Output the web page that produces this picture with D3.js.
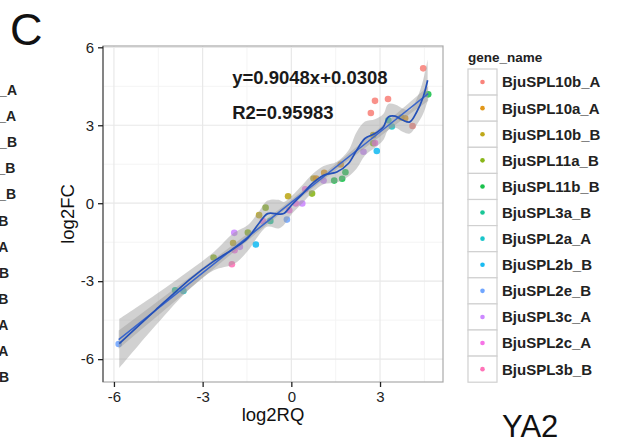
<!DOCTYPE html>
<html>
<head>
<meta charset="utf-8">
<script src="https://cdn.jsdelivr.net/npm/d3@7"></script>
<style>
  body { margin: 0; background: #fff; }
  svg { display: block; font-family: "Liberation Sans", Arial, sans-serif; }
</style>
</head>
<body>
<div id="chart"></div>
<script>
// legend levels (ggplot order) and their hue colours
var genes = ['BjuSPL10b_A', 'BjuSPL10a_A', 'BjuSPL10b_B', 'BjuSPL11a_B', 'BjuSPL11b_B', 'BjuSPL3a_B',
             'BjuSPL2a_A', 'BjuSPL2b_B', 'BjuSPL2e_B', 'BjuSPL3c_A', 'BjuSPL2c_A', 'BjuSPL3b_B']
var geneColors = ['#F8766D', '#DE8C00', '#B79F00', '#7CAE00', '#00BA38', '#00C08B',
                  '#00BFC4', '#00B4F0', '#619CFF', '#C77CFF', '#F564E3', '#FF64B0']

// points
var ptX = [-5.84, -3.93, -3.65, -2.63, -2.01, -1.97, -1.93, -1.92, -1.74, -1.47, -1.20, -1.09, -0.96, -0.87, -0.71,
           -0.15, -0.07, -0.11, 0.15, 0.37, 0.47, 0.70, 0.75, 0.84, 1.09, 1.11, 1.45, 1.72, 1.83, 1.67, 2.44,
           2.77, 2.83, 2.89, 2.77, 2.69, 2.83, 3.27, 3.40, 3.28, 3.72, 3.85, 4.10, 4.46, 4.63]
var ptY = [-5.42, -3.35, -3.38, -2.09, -2.35, -1.53, -1.14, -1.81, -1.68, -1.13, -1.59, -0.46, -0.69, -0.17, -0.68,
           -0.63, -0.27, 0.27, -0.01, -0.01, 0.54, 0.37, 0.95, 0.95, 0.87, 1.17, 0.87, 0.94, 1.19, 1.49, 1.98,
           2.31, 2.32, 2.01, 2.62, 3.47, 3.94, 4.01, 2.95, 3.19, 3.30, 3.27, 2.97, 5.19, 4.19]
var ptGene = ['BjuSPL2e_B', 'BjuSPL3a_B', 'BjuSPL2a_A', 'BjuSPL11a_B', 'BjuSPL3b_B', 'BjuSPL10b_B', 'BjuSPL3c_A',
              'BjuSPL2c_A', 'BjuSPL3c_A', 'BjuSPL11a_B', 'BjuSPL2b_B', 'BjuSPL10b_B', 'BjuSPL2c_A', 'BjuSPL11a_B',
              'BjuSPL3a_B', 'BjuSPL2e_B', 'BjuSPL2c_A', 'BjuSPL10b_B', 'BjuSPL2c_A', 'BjuSPL3c_A', 'BjuSPL2c_A',
              'BjuSPL11a_B', 'BjuSPL10b_B', 'BjuSPL10a_A', 'BjuSPL3c_A', 'BjuSPL10a_A', 'BjuSPL11b_B', 'BjuSPL11b_B',
              'BjuSPL11b_B', 'BjuSPL10a_A', 'BjuSPL3c_A', 'BjuSPL11a_B', 'BjuSPL2c_A', 'BjuSPL2b_B', 'BjuSPL10b_B',
              'BjuSPL10b_A', 'BjuSPL10b_A', 'BjuSPL10b_A', 'BjuSPL2a_A', 'BjuSPL3a_B', 'BjuSPL10b_B', 'BjuSPL10a_A',
              'BjuSPL10b_A', 'BjuSPL10b_A', 'BjuSPL11b_B']

// linear fit and its band
var lmX = [-5.84, -3, 0, 3, 4.63],
    lmY = [-5.25, -2.68, 0.03, 2.74, 4.22],
    lmSE = [0.35, 0.2, 0.1, 0.17, 0.28]

// loess fit and its band
var loessX = [-5.82, -4.6, -3.4, -2.62, -1.94, -1.49, -1.10, -0.80, -0.43, -0.26, 0.02, 0.39, 0.72, 1.09,
              1.54, 1.93, 2.21, 2.49, 2.83, 3.11, 3.28, 3.51, 3.78, 4.01, 4.24, 4.46, 4.61]
var loessY = [-5.40, -4.12, -2.90, -2.23, -1.74, -1.36, -0.78, -0.40, -0.42, -0.40, -0.06, 0.37, 0.77, 1.08,
              1.20, 1.53, 2.04, 2.49, 2.68, 2.93, 3.32, 3.35, 3.19, 3.13, 3.51, 4.09, 4.73]
var loessSE = [0.95, 0.6, 0.35, 0.35, 0.6, 0.5, 0.45, 0.5, 0.55, 0.45, 0.35, 0.35, 0.35, 0.35,
               0.4, 0.5, 0.7, 0.65, 0.55, 0.5, 0.5, 0.45, 0.45, 0.45, 0.5, 0.65, 0.8]

var xTicks = [-6, -3, 0, 3],
    yTicks = [-6, -3, 0, 3, 6],
    xMinor = [-4.5, -1.5, 1.5, 4.5],
    yMinor = [-4.5, -1.5, 1.5, 4.5]

var annLines = ['y=0.9048x+0.0308', 'R2=0.95983'],
    annX = [-2.0, -2.0],
    annY = [4.85, 3.5]

var width = 621, height = 443,
    panel = {left: 103, right: 443, top: 46, bottom: 382}

var svg = d3.select('#chart').append('svg')
    .attr('width', width)
    .attr('height', height)

var x = d3.scaleLinear().domain([-6.37, 5.13]).range([panel.left, panel.right]),
    y = d3.scaleLinear().domain([-6.88, 6.05]).range([panel.bottom, panel.top])

// panel + grid
svg.append('rect')
    .attr('x', panel.left).attr('y', panel.top)
    .attr('width', panel.right - panel.left).attr('height', panel.bottom - panel.top)
    .attr('fill', '#fff')

svg.selectAll('.gx-minor').data(xMinor).enter().append('line')
    .attr('x1', x).attr('x2', x).attr('y1', panel.top).attr('y2', panel.bottom)
    .attr('stroke', '#f4f4f4').attr('stroke-width', 1)
svg.selectAll('.gy-minor').data(yMinor).enter().append('line')
    .attr('y1', y).attr('y2', y).attr('x1', panel.left).attr('x2', panel.right)
    .attr('stroke', '#f4f4f4').attr('stroke-width', 1)
svg.selectAll('.gx').data(xTicks).enter().append('line')
    .attr('x1', x).attr('x2', x).attr('y1', panel.top).attr('y2', panel.bottom)
    .attr('stroke', '#e8e8e8').attr('stroke-width', 1.2)
svg.selectAll('.gy').data(yTicks).enter().append('line')
    .attr('y1', y).attr('y2', y).attr('x1', panel.left).attr('x2', panel.right)
    .attr('stroke', '#e8e8e8').attr('stroke-width', 1.2)

// points
svg.append('g').selectAll('circle')
    .data(d3.range(ptX.length)).enter().append('circle')
    .attr('cx', function(i) { return x(ptX[i]) })
    .attr('cy', function(i) { return y(ptY[i]) })
    .attr('r', 3.3)
    .attr('fill', function(i) { return geneColors[genes.indexOf(ptGene[i])] })
    .attr('opacity', 0.8)

// bands
var lmBand = d3.area()
    .x(function(i) { return x(lmX[i]) })
    .y0(function(i) { return y(lmY[i] - lmSE[i]) })
    .y1(function(i) { return y(lmY[i] + lmSE[i]) })
    .curve(d3.curveNatural)
var loessBand = d3.area()
    .x(function(i) { return x(loessX[i]) })
    .y0(function(i) { return y(loessY[i] - loessSE[i]) })
    .y1(function(i) { return y(loessY[i] + loessSE[i]) })
    .curve(d3.curveCatmullRom)

svg.append('path').attr('d', lmBand(d3.range(lmX.length)))
    .attr('fill', '#999').attr('opacity', 0.42)
svg.append('path').attr('d', loessBand(d3.range(loessX.length)))
    .attr('fill', '#999').attr('opacity', 0.45)

// fit lines
var lmLine = d3.line()
    .x(function(i) { return x(lmX[i]) })
    .y(function(i) { return y(lmY[i]) })
var loessLine = d3.line()
    .x(function(i) { return x(loessX[i]) })
    .y(function(i) { return y(loessY[i]) })
    .curve(d3.curveCatmullRom)

svg.append('path').attr('d', lmLine(d3.range(lmX.length)))
    .attr('fill', 'none').attr('stroke', '#3a66cc').attr('stroke-width', 1.5)
svg.append('path').attr('d', loessLine(d3.range(loessX.length)))
    .attr('fill', 'none').attr('stroke', '#2450b8').attr('stroke-width', 1.7)

// border
svg.append('rect')
    .attr('x', panel.left).attr('y', panel.top)
    .attr('width', panel.right - panel.left).attr('height', panel.bottom - panel.top)
    .attr('fill', 'none').attr('stroke', '#aaa').attr('stroke-width', 1.2)
svg.append('line')
    .attr('x1', panel.left).attr('x2', panel.left).attr('y1', panel.top).attr('y2', panel.bottom)
    .attr('stroke', '#555').attr('stroke-width', 1.2)

// axes (plain hyphen for negatives, as in the figure)
var fmt = function(d) { return String(d) }
var xAxis = svg.append('g')
    .attr('transform', 'translate(0,' + panel.bottom + ')')
    .call(d3.axisBottom(x).tickValues(xTicks).tickFormat(fmt).tickSize(5).tickPadding(4))
var yAxis = svg.append('g')
    .attr('transform', 'translate(' + panel.left + ',0)')
    .call(d3.axisLeft(y).tickValues(yTicks).tickFormat(fmt).tickSize(5).tickPadding(4))
;[xAxis, yAxis].forEach(function(a) {
    a.select('.domain').remove()
    a.selectAll('line').attr('stroke', '#222').attr('stroke-width', 1.3)
    a.selectAll('text').attr('fill', '#222').style('font-size', '15px')
        .style('font-family', '"Liberation Sans", Arial, sans-serif')
})

svg.append('text')
    .attr('x', (panel.left + panel.right) / 2).attr('y', 421)
    .attr('text-anchor', 'middle')
    .style('font-size', '18.5px').attr('fill', '#111')
    .text('log2RQ')
svg.append('text')
    .attr('transform', 'translate(74,' + (panel.top + panel.bottom) / 2 + ') rotate(-90)')
    .attr('text-anchor', 'middle')
    .style('font-size', '18.5px').attr('fill', '#111')
    .text('log2FC')

// equation
svg.selectAll('.ann').data(annLines).enter().append('text')
    .attr('x', function(d, i) { return x(annX[i]) })
    .attr('y', function(d, i) { return y(annY[i]) })
    .attr('dy', '0.36em')
    .style('font-size', '18.5px').style('font-weight', 'bold').attr('fill', '#1a1a1a')
    .text(function(d) { return d })

// legend
var legend = svg.append('g').attr('transform', 'translate(468,69)'),
    keyW = 29, keyH = 26.1

legend.append('text')
    .attr('x', 0).attr('y', -7)
    .style('font-size', '13.5px').style('font-weight', 'bold').attr('fill', '#222')
    .text('gene_name')

var keys = legend.selectAll('.key').data(genes).enter().append('g')
    .attr('transform', function(d, i) { return 'translate(0,' + i * keyH + ')' })
keys.append('rect')
    .attr('width', keyW).attr('height', keyH)
    .attr('fill', '#fff').attr('stroke', '#d0d0d0').attr('stroke-width', 1.2)
keys.append('circle')
    .attr('cx', keyW / 2).attr('cy', keyH / 2).attr('r', 2.3)
    .attr('fill', function(d, i) { return geneColors[i] }).attr('opacity', 0.9)
keys.append('text')
    .attr('x', keyW + 5).attr('y', keyH / 2).attr('dy', '0.36em')
    .style('font-size', '15px').style('font-weight', 'bold').attr('fill', '#222')
    .text(function(d) { return d })

// cut-off legend of the neighbouring panel (the figure shows it clipped at the left edge)
var leftLeg = svg.append('g')
leftLeg.selectAll('text').data(genes).enter().append('text')
    .attr('y', function(d, i) { return 90 + i * keyH })
    .attr('dy', '0.36em')
    .style('font-size', '14px').style('font-weight', 'bold').attr('fill', '#222')
    .text(function(d) { return d })
var longest = d3.max(leftLeg.selectAll('text').nodes(), function(n) { return n.getComputedTextLength() })
leftLeg.selectAll('text').attr('x', 17 - longest)

// panel letters
svg.append('text')
    .attr('x', 10).attr('y', 45)
    .style('font-size', '45px').attr('fill', '#111')
    .text('C')
svg.append('text')
    .attr('x', 502).attr('y', 437)
    .style('font-size', '31px').attr('fill', '#111')
    .text('YA2')
</script>
</body>
</html>
